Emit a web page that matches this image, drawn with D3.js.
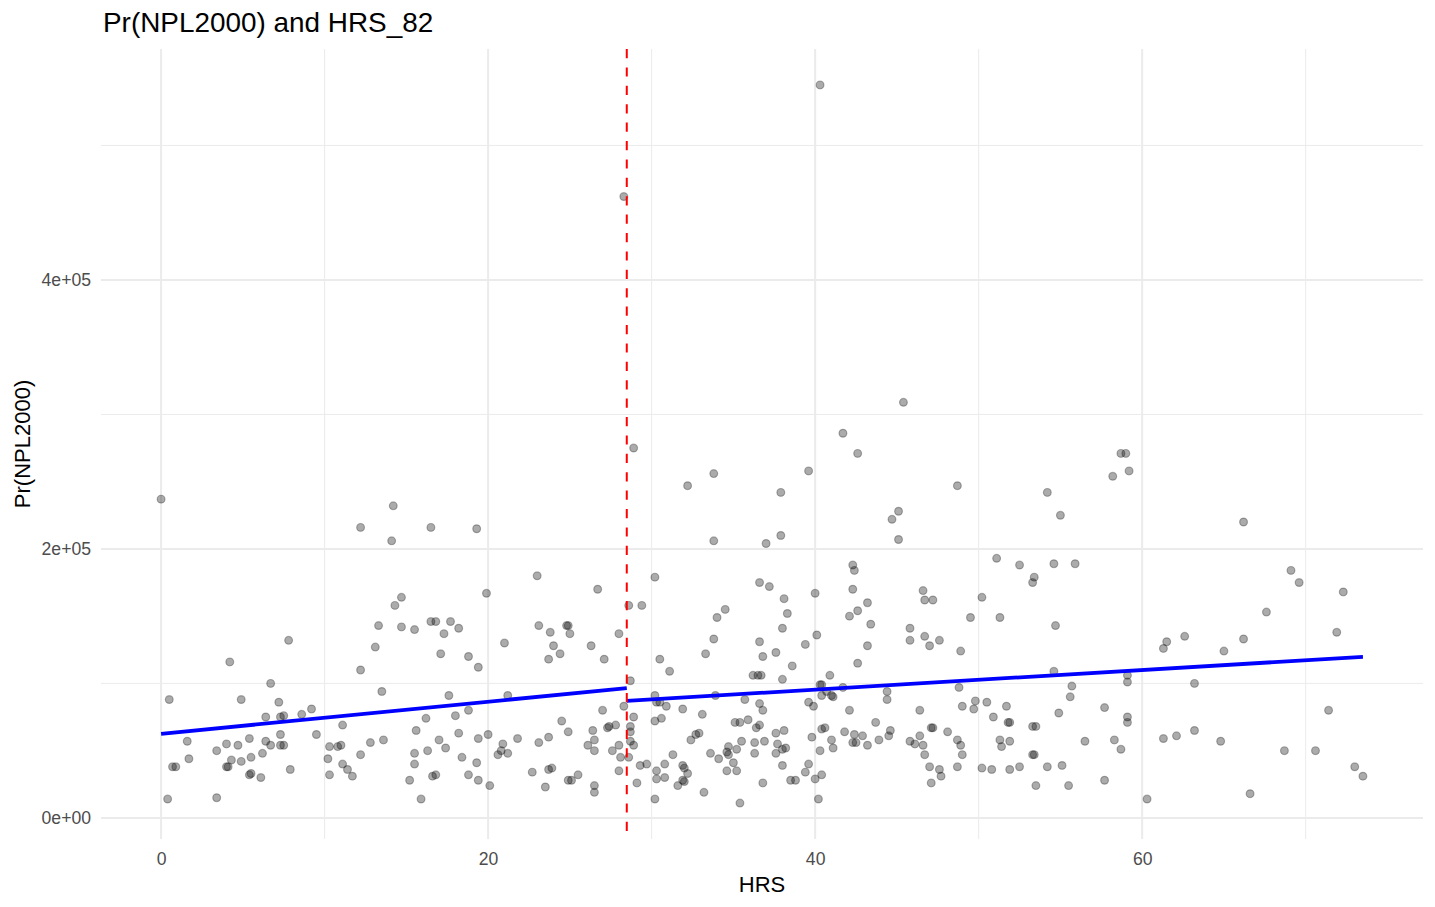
<!DOCTYPE html>
<html>
<head>
<meta charset="utf-8">
<script src="https://cdn.jsdelivr.net/npm/d3@7"></script>
<style>
  body { margin: 0; background: #fff; }
  text { font-family: "Liberation Sans", Arial, Helvetica, sans-serif; }
</style>
</head>
<body>
<div id="container"></div>
<script>

/** DATA */
// HRS values (x)
const hrs = [
  0.0, 14.2, 12.2, 16.5, 14.1, 14.7, 14.3, 13.3, 14.7, 15.5,
  16.5, 16.8, 17.7, 18.2, 17.3, 13.1, 17.1, 18.8, 12.2, 13.5,
  17.6, 7.8, 4.2, 6.7, 0.5, 4.9, 7.2, 6.4, 7.3, 7.5,
  8.6, 9.2, 9.5, 7.3, 11.1, 16.2, 18.0, 15.6, 18.2, 18.8,
  1.6, 4.0, 4.7, 5.4, 3.4, 6.4, 6.7, 7.3, 7.5, 6.2,
  4.3, 4.9, 5.5, 1.7, 0.7, 0.9, 4.0, 4.1, 5.4, 5.5,
  6.1, 7.9, 0.4, 3.4, 10.3, 10.8, 11.0, 10.2, 12.8, 13.6,
  12.2, 11.1, 11.4, 11.7, 10.3, 15.5, 15.5, 16.3, 17.0, 17.4,
  18.4, 15.2, 16.6, 16.8, 15.9, 18.8,

  19.3, 32.2, 33.8, 37.0, 23.0, 19.9, 26.7, 30.2, 28.6, 29.4,
  36.6, 37.2, 34.5, 34.0, 33.8, 33.3, 36.6, 36.8, 36.2, 36.5,
  36.7, 23.1, 23.8, 24.8, 24.9, 25.0, 21.0, 24.0, 24.4, 23.7,
  26.3, 27.1, 28.0, 19.4, 28.7, 30.5, 31.1, 21.2, 27.0, 28.3,
  28.9, 30.2, 30.3, 30.5, 30.9, 31.9, 33.1, 35.7, 36.6, 36.8,
  33.9, 24.5, 24.9, 26.4, 27.3, 27.4, 27.8, 28.7, 28.7, 30.2,
  30.6, 35.1, 35.4, 35.9, 36.4, 36.6, 20.0, 19.4, 21.8, 23.1,
  23.7, 20.9, 20.8, 20.6, 21.2, 26.1, 26.5, 26.5, 27.6, 28.0,
  28.1, 28.6, 28.7, 28.9, 28.0, 29.3, 29.7, 30.8, 31.3, 30.3,
  30.8, 30.3, 29.1, 30.2, 31.9, 32.0, 32.2, 32.0, 31.9, 31.6,
  33.2, 32.4, 32.7, 32.9, 33.6, 34.1, 34.6, 34.7, 34.7, 35.2,
  35.0, 34.6, 35.2, 35.5, 36.3, 36.3, 36.9, 35.4, 36.8, 19.3,
  19.4, 20.1, 22.7, 23.5, 23.7, 23.9, 24.9, 25.1, 25.5, 26.5,
  26.5,

  37.9, 37.9, 48.7, 45.1, 44.7, 45.1, 54.2, 55.0, 42.3, 42.4,
  42.3, 43.2, 42.6, 42.1, 43.4, 43.2, 42.6, 40.0, 40.1, 39.4,
  38.1, 38.3, 38.0, 37.6, 38.6, 38.0, 40.9, 40.3, 40.4, 40.4,
  41.0, 41.1, 40.7, 41.7, 39.6, 39.9, 42.1, 44.4, 44.4, 46.6,
  46.7, 47.2, 45.8, 45.8, 46.7, 47.0, 47.6, 48.9, 49.5, 50.2,
  51.3, 51.1, 52.5, 53.4, 53.3, 54.6, 55.9, 54.7, 54.6, 55.7,
  55.6, 54.9, 48.8, 49.0, 49.8, 49.7, 50.5, 51.7, 50.9, 51.8,
  51.9, 53.3, 53.5, 46.4, 47.1, 47.2, 48.1, 43.7, 44.6, 44.5,
  41.8, 42.4, 42.3, 42.5, 42.9, 43.2, 43.9, 41.0, 41.1, 40.4,
  40.6, 39.8, 40.3, 37.6, 38.1, 37.7, 37.6, 38.0, 38.2, 38.0,
  38.5, 38.8, 39.6, 39.4, 40.0, 40.4, 40.2, 45.8, 46.1, 46.4,
  46.6, 46.7, 47.0, 47.6, 47.7, 47.1, 48.7, 48.9, 49.0, 48.7,
  50.2, 50.8, 51.9, 52.5, 51.3, 51.4, 51.9, 53.3, 53.4, 53.5,
  54.2, 55.1, 55.5,

  66.2, 69.1, 69.6, 72.3, 67.6, 71.9, 62.6, 61.3, 61.5, 65.0,
  66.2, 59.1, 59.1, 63.2, 57.7, 59.1, 59.1, 56.5, 58.3, 58.7,
  61.3, 62.1, 63.2, 64.8, 71.4, 68.7, 70.6, 73.0, 73.5, 57.7,
  60.3, 66.6,

  58.2, 58.7, 59.0, 59.2, 28.3, 40.3, 45.4, 41.7, 42.6, 39.6,
  33.8, 28.9
];

// Pr(NPL2000) values, in thousands (y)
const nplK = [
  237, 232, 216, 216, 206, 164, 158, 143, 142, 140,
  146, 146, 146, 141, 137, 127, 122, 120, 110, 94,
  91, 132, 116, 100, 88, 88, 86, 75, 75, 76,
  77, 81, 62, 62, 69, 74, 76, 65, 63, 80,
  57, 55, 54, 59, 50, 57, 54, 54, 54, 48,
  43, 42, 45, 44, 38, 38, 38, 38, 32, 33,
  30, 36, 14, 15, 53, 53, 54, 44, 56, 58,
  47, 40, 36, 31, 32, 48, 40, 50, 58, 52,
  45, 28, 31, 32, 14, 32,

  215, 247, 206, 204, 180, 167, 170, 179, 158, 158,
  175, 172, 155, 149, 133, 122, 131, 120, 106, 106,
  106, 143, 138, 143, 143, 137, 130, 128, 122, 118,
  128, 118, 137, 112, 102, 118, 109, 91, 80, 83,
  75, 91, 86, 86, 83, 81, 77, 88, 85, 80,
  91, 72, 64, 65, 67, 68, 69, 68, 64, 72,
  74, 71, 71, 73, 67, 69, 62, 59, 59, 56,
  60, 55, 50, 47, 48, 54, 58, 50, 50, 54,
  45, 45, 57, 54, 35, 39, 40, 40, 47, 35,
  30, 29, 26, 14, 39, 37, 33, 27, 28, 24,
  19, 58, 62, 63, 48, 44, 49, 47, 53, 51,
  41, 35, 35, 57, 56, 48, 57, 11, 26, 41,
  28, 24, 34, 23, 36, 37, 28, 28, 32, 24,
  19,

  242, 210, 247, 228, 222, 207, 242, 225, 188, 184,
  170, 160, 154, 150, 144, 128, 115, 167, 136, 129,
  163, 152, 141, 123, 113, 103, 106, 99, 99, 91,
  91, 90, 94, 97, 86, 83, 80, 94, 88, 169,
  162, 162, 141, 132, 135, 128, 132, 124, 149, 164,
  149, 193, 188, 179, 175, 189, 189, 143, 109, 98,
  90, 78, 97, 83, 87, 81, 86, 83, 75, 71,
  71, 68, 68, 80, 67, 67, 64, 71, 65, 61,
  64, 62, 56, 56, 61, 54, 58, 58, 52, 66,
  67, 60, 50, 63, 65, 55, 48, 51, 52, 39,
  28, 28, 40, 34, 29, 32, 14, 57, 55, 61,
  54, 47, 38, 36, 31, 26, 58, 54, 47, 38,
  37, 36, 36, 38, 58, 53, 57, 47, 47, 24,
  38, 39, 24,

  220, 184, 175, 168, 153, 138, 135, 126, 131, 124,
  133, 106, 101, 100, 82, 75, 71, 57, 58, 51,
  59, 61, 65, 57, 80, 50, 50, 38, 31, 28,
  14, 18,

  254, 271, 271, 258, 462, 545, 309, 286, 271, 258,
  256, 275
];

// regression discontinuity: cutoff and the two fitted segments (thousands)
const cutoff = 28.48;
const fitFrom = [0, 28.48];
const fitTo = [28.48, 73.5];
const fitIntercept = [62.5, 66.2];
const fitSlope = [1.194, 0.729];

// axis ticks
const xMajor = [0, 20, 40, 60];
const xMinor = [10, 30, 50, 70];
const yMajor = [0, 200, 400];
const yMinor = [100, 300, 500];

/** CONSTANTS AND GLOBALS */
const width = 1435,
  height = 907,
  margin = { top: 49, bottom: 68, left: 101, right: 12 };

const points = hrs.map((h, i) => ({ x: h, y: nplK[i] }));

// ggplot style 5% expansion
const xExt = d3.extent(hrs), yExt = d3.extent(nplK);
const xPad = (xExt[1] - xExt[0]) * 0.05, yPad = (yExt[1] - yExt[0]) * 0.05;

const x = d3.scaleLinear()
  .domain([xExt[0] - xPad, xExt[1] + xPad])
  .range([margin.left, width - margin.right]);

const y = d3.scaleLinear()
  .domain([yExt[0] - yPad, yExt[1] + yPad])
  .range([height - margin.bottom, margin.top]);

// 2e+05 style labels
function sci(k) {
  const v = k * 1000;
  if (v === 0) return "0e+00";
  const e = Math.floor(Math.log10(v));
  const m = v / Math.pow(10, e);
  return m + "e+" + String(e).padStart(2, "0");
}

const svg = d3.select("#container")
  .append("svg")
  .attr("width", width)
  .attr("height", height);

// grid
const grid = svg.append("g");
grid.selectAll(".vminor").data(xMinor).join("line")
  .attr("x1", d => x(d)).attr("x2", d => x(d))
  .attr("y1", margin.top).attr("y2", height - margin.bottom)
  .attr("stroke", "#ebebeb").attr("stroke-width", 1);
grid.selectAll(".hminor").data(yMinor).join("line")
  .attr("x1", margin.left).attr("x2", width - margin.right)
  .attr("y1", d => y(d)).attr("y2", d => y(d))
  .attr("stroke", "#ebebeb").attr("stroke-width", 1);
grid.selectAll(".vmajor").data(xMajor).join("line")
  .attr("x1", d => x(d)).attr("x2", d => x(d))
  .attr("y1", margin.top).attr("y2", height - margin.bottom)
  .attr("stroke", "#ebebeb").attr("stroke-width", 2);
grid.selectAll(".hmajor").data(yMajor).join("line")
  .attr("x1", margin.left).attr("x2", width - margin.right)
  .attr("y1", d => y(d)).attr("y2", d => y(d))
  .attr("stroke", "#ebebeb").attr("stroke-width", 2);

// axes (labels only)
const xAxis = svg.append("g")
  .attr("transform", `translate(0,${height - margin.bottom})`)
  .call(d3.axisBottom(x).tickValues(xMajor).tickSize(0).tickPadding(13.5));
const yAxis = svg.append("g")
  .attr("transform", `translate(${margin.left},0)`)
  .call(d3.axisLeft(y).tickValues(yMajor).tickFormat(sci).tickSize(0).tickPadding(10));
[xAxis, yAxis].forEach(a => {
  a.select(".domain").remove();
  a.selectAll("text")
    .attr("fill", "#4d4d4d")
    .style("font-size", "17.6px")
    .style("font-family", '"Liberation Sans", Arial, sans-serif');
});

// points
svg.append("g").selectAll("circle")
  .data(points)
  .join("circle")
  .attr("cx", d => x(d.x))
  .attr("cy", d => y(d.y))
  .attr("r", 3.9)
  .attr("fill", "black")
  .attr("fill-opacity", 0.33)
  .attr("stroke", "black")
  .attr("stroke-opacity", 0.28)
  .attr("stroke-width", 1.2);

// fitted lines on each side of the cutoff
const fits = fitFrom.map((f, i) => [
  { x: f, y: fitIntercept[i] + fitSlope[i] * f },
  { x: fitTo[i], y: fitIntercept[i] + fitSlope[i] * fitTo[i] }
]);
const lineGen = d3.line().x(d => x(d.x)).y(d => y(d.y));
svg.append("g").selectAll("path")
  .data(fits)
  .join("path")
  .attr("d", lineGen)
  .attr("fill", "none")
  .attr("stroke", "#0000ff")
  .attr("stroke-width", 3.8);

// cutoff line
svg.append("line")
  .attr("x1", x(cutoff)).attr("x2", x(cutoff))
  .attr("y1", margin.top).attr("y2", height - margin.bottom)
  .attr("stroke", "#ff0000")
  .attr("stroke-width", 2)
  .attr("stroke-dasharray", "9.2,9.2");

// titles
svg.append("text")
  .attr("x", 103).attr("y", 32)
  .style("font-size", "27.9px")
  .attr("fill", "black")
  .text("Pr(NPL2000) and HRS_82");

svg.append("text")
  .attr("x", (margin.left + width - margin.right) / 2)
  .attr("y", 892)
  .attr("text-anchor", "middle")
  .style("font-size", "22px")
  .text("HRS");

svg.append("text")
  .attr("transform", `translate(30,${(margin.top + height - margin.bottom) / 2}) rotate(-90)`)
  .attr("text-anchor", "middle")
  .style("font-size", "22px")
  .text("Pr(NPL2000)");

</script>
</body>
</html>
